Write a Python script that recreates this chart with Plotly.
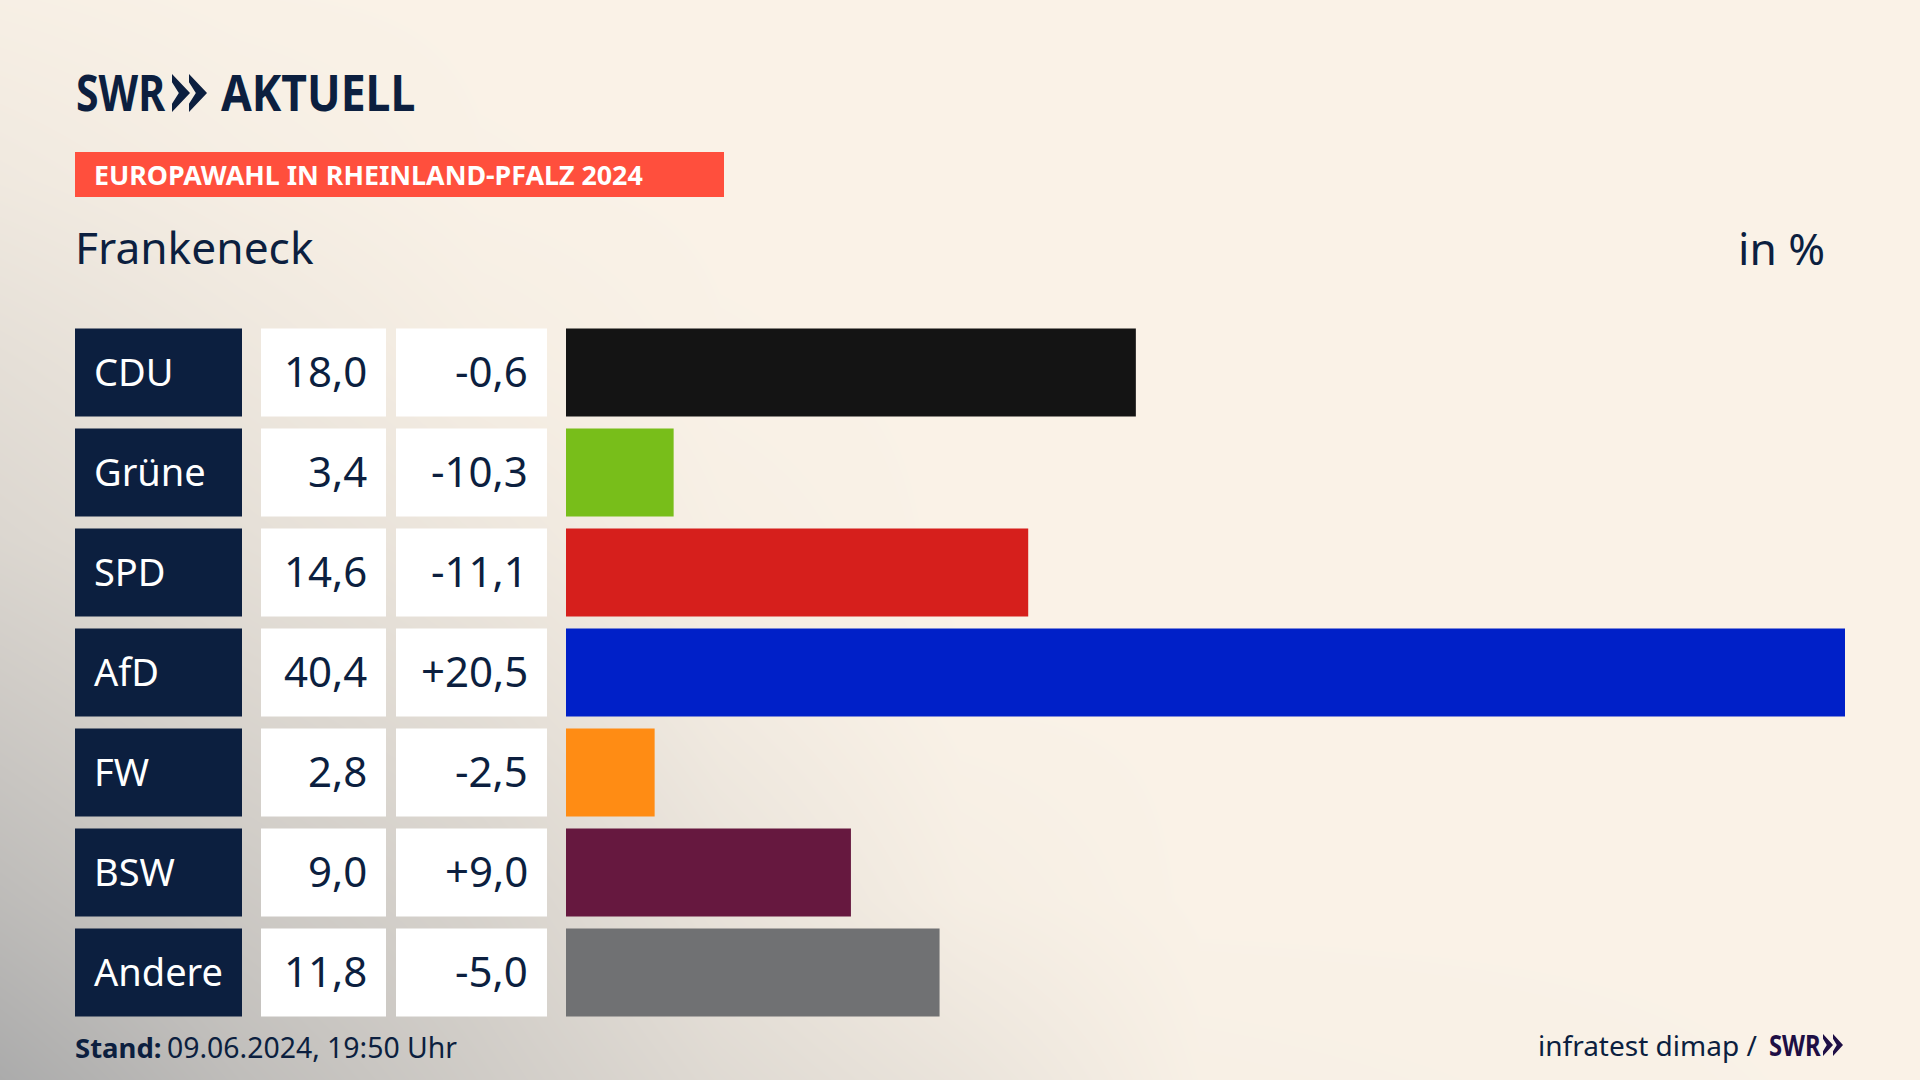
import plotly.graph_objects as go

# data
parties = ["CDU", "Grüne", "SPD", "AfD", "FW", "BSW", "Andere"]
shares = [18.0, 3.4, 14.6, 40.4, 2.8, 9.0, 11.8]
diffs = [-0.6, -10.3, -11.1, 20.5, -2.5, 9.0, -5.0]
bar_colors = ["#141414", "#78BE1A", "#D61F1C", "#0020C8", "#FF8C14", "#66183F", "#707173"]

# background darkness, sampled on a coarse grid (0 = cream, 1 = corner grey)
bg_x = [0, 240, 480, 720, 960, 1200, 1920]
bg_y = [0, 180, 360, 540, 720, 900, 1080]
bg_z = [
    [0.04, 0.01, 0.00, 0.00, 0.00, 0.00, 0.00],
    [0.13, 0.06, 0.01, 0.00, 0.00, 0.00, 0.00],
    [0.27, 0.16, 0.06, 0.01, 0.00, 0.00, 0.00],
    [0.39, 0.27, 0.16, 0.04, 0.00, 0.00, 0.00],
    [0.58, 0.42, 0.30, 0.12, 0.01, 0.00, 0.00],
    [0.77, 0.58, 0.44, 0.22, 0.06, 0.00, 0.00],
    [1.00, 0.74, 0.54, 0.34, 0.20, 0.03, 0.00],
]

NAVY = "#0C1F3F"
LOGO_DARK = "#1E0F45"
CREAM = "#FAF2E7"
FONT = "Noto Sans"
W, H = 1920, 1080

# no page margin, and the logo words squeezed to the narrow logo lettering
POST_SCRIPT = """
document.body.style.margin = '0';
function squeeze() {
  var factors = {'AKTUELL': 0.89, 'SWR': 0.82, 'SWRsmall': 0.85};
  var seen = 0;
  document.querySelectorAll('text.annotation-text').forEach(function (t) {
    var key = t.textContent;
    if (key === 'SWR') { seen += 1; if (seen === 2) key = 'SWRsmall'; }
    if (factors[key]) {
      t.style.transformBox = 'fill-box';
      t.style.transformOrigin = '0 50%';
      t.style.transform = 'scaleX(' + factors[key] + ')';
    }
  });
}
squeeze();
setTimeout(squeeze, 50);
setTimeout(squeeze, 300);
"""


def fmt(v, signed=False):
    s = f"{v:+.1f}" if signed else f"{v:.1f}"
    return s.replace(".", ",")


def label(text, x, y, size, color=NAVY, anchor="left", family=FONT):
    return dict(
        text=text, x=x / W, y=1 - y / H, xref="paper", yref="paper",
        xanchor=anchor, yanchor="middle", showarrow=False,
        font=dict(size=size, color=color, family=family),
    )


def chevrons(x, y0, y1, w, gap, color):
    # two notched arrow heads of the SWR logo
    mid = (y0 + y1) / 2
    notch = (y1 - y0) * 0.22
    out = []
    for i in range(2):
        a = x + i * gap
        path = (
            f"M {a/W} {1-y0/H} L {(a+w)/W} {1-mid/H} L {a/W} {1-y1/H} "
            f"L {a/W} {1-(y1-notch)/H} L {(a+w*0.38)/W} {1-mid/H} L {a/W} {1-(y0+notch)/H} Z"
        )
        out.append(dict(type="path", path=path, xref="paper", yref="paper",
                        fillcolor=color, line_width=0))
    return out


fig = go.Figure()

fig.add_trace(go.Heatmap(
    x=bg_x, y=bg_y, z=bg_z, zmin=0, zmax=1, zsmooth="best", showscale=False,
    colorscale=[[0, CREAM], [1, "#ABABAB"]], hoverinfo="skip",
    xaxis="x", yaxis="y",
))

columns = [
    ("x2", [NAVY] * 7),
    ("x3", ["white"] * 7),
    ("x4", ["white"] * 7),
]
for ax, colors in columns:
    fig.add_trace(go.Bar(
        x=[1] * 7, y=parties, orientation="h", width=0.88,
        marker=dict(color=colors, line_width=0),
        xaxis=ax, yaxis="y2", showlegend=False, hoverinfo="skip",
    ))

fig.add_trace(go.Bar(
    x=shares, y=parties, orientation="h", width=0.88,
    marker=dict(color=bar_colors, line_width=0),
    xaxis="x5", yaxis="y2", showlegend=False,
))

annotations = [
    label("<b>SWR</b>", 74, 92, 50),
    label("<b>AKTUELL</b>", 219, 92, 50),
    label("<b>EUROPAWAHL IN RHEINLAND-PFALZ 2024</b>", 92, 175, 26.8, color="white"),
    label("Frankeneck", 73, 247, 44.3),
    label("in %", 1827, 248, 44.3, anchor="right"),
    label("<b>Stand:</b>", 73, 1047, 27.5),
    label("09.06.2024, 19:50 Uhr", 165, 1047, 28.4),
    label("infratest dimap /", 1759, 1045, 28, anchor="right"),
    label("<b>SWR</b>", 1767, 1045, 28, color=LOGO_DARK),
]
for party, share, diff in zip(parties, shares, diffs):
    annotations.append(dict(
        text=party, x=0, xref="x2", xshift=17, xanchor="left", y=party, yref="y2", yshift=2,
        showarrow=False, font=dict(size=38, color="white", family=FONT),
    ))
    annotations.append(dict(
        text=fmt(share), x=1, xref="x3", xshift=-17, xanchor="right", y=party, yref="y2", yshift=2,
        showarrow=False, font=dict(size=42, color=NAVY, family=FONT),
    ))
    annotations.append(dict(
        text=fmt(diff, signed=True), x=1, xref="x4", xshift=-17, xanchor="right", y=party, yref="y2", yshift=2,
        showarrow=False, font=dict(size=42, color=NAVY, family=FONT),
    ))

hidden = dict(visible=False, fixedrange=True)
fig.update_layout(
    width=W, height=H,
    margin=dict(l=0, r=0, t=0, b=0),
    paper_bgcolor=CREAM, plot_bgcolor="rgba(0,0,0,0)",
    showlegend=False,
    xaxis=dict(domain=[0, 1], range=[0, 1920], **hidden),
    yaxis=dict(domain=[0, 1], range=[1080, 0], **hidden),
    xaxis2=dict(domain=[75 / W, 242 / W], range=[0, 1], anchor="y2", **hidden),
    xaxis3=dict(domain=[261 / W, 386 / W], range=[0, 1], anchor="y2", **hidden),
    xaxis4=dict(domain=[396 / W, 547 / W], range=[0, 1], anchor="y2", **hidden),
    xaxis5=dict(domain=[566 / W, 1845 / W], range=[0, 40.4], anchor="y2", **hidden),
    yaxis2=dict(domain=[1 - 1022.5 / H, 1 - 322.5 / H], range=[6.5, -0.5], type="category",
                categoryorder="array", categoryarray=parties, anchor="x2", **hidden),
    annotations=annotations,
    shapes=[
        dict(type="rect", xref="paper", yref="paper", x0=75 / W, x1=724 / W,
             y0=1 - 197 / H, y1=1 - 152 / H, fillcolor="#FF4F3D", line_width=0),
    ] + chevrons(172, 74, 112, 18, 17, NAVY) + chevrons(1823, 1034, 1056, 10, 10, LOGO_DARK),
)

fig.write_html("out.html", post_script=POST_SCRIPT, config={"displayModeBar": False})
